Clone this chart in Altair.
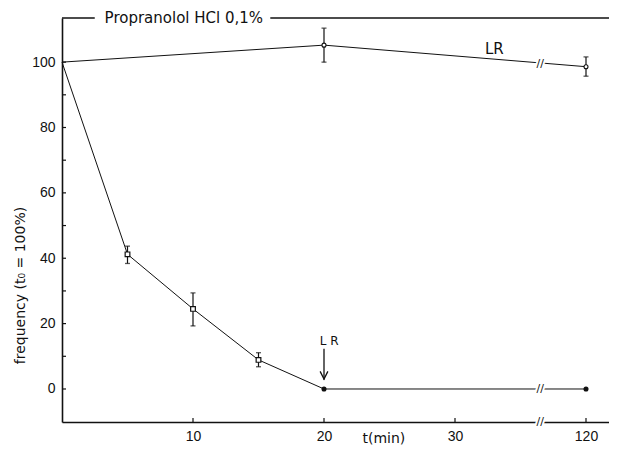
import altair as alt
import pandas as pd

# ---------------- data ----------------
t_drug = [0, 5, 10, 15, 20, 120]
f_drug = [100, 41.2, 24.5, 8.9, 0, 0]
drug_marker = ["none", "square", "square", "square", "dot", "dot"]

drug_err_t = [5, 10, 15]
drug_err_lo = [38.4, 19.3, 6.8]
drug_err_hi = [43.7, 29.4, 11.1]

t_lr = [0, 20, 120]
f_lr = [100, 105.2, 98.6]
lr_marker = ["none", "circle", "circle"]

lr_err_t = [20, 120]
lr_err_lo = [100.0, 95.7]
lr_err_hi = [110.4, 101.6]

x_tick_values = [10, 20, 30, 120]
y_label_values = [0, 20, 40, 60, 80, 100]
y_tick_values = [0, 10, 20, 30, 40, 50, 60, 70, 80, 90, 100]

title_text = "Propranolol HCl 0,1%"
y_title = "frequency (t\u2080 = 100%)"
x_title = "t(min)"

# broken time axis: 30 min is followed directly by 120 min
BREAK_GAP = 80
BREAK_POS = 36.5
W, H = 547, 404
X_MAX = W / 13.1
Y_MIN, Y_MAX = -10.1, 113.5


def pos(t):
    return t if t <= 30 else t - BREAK_GAP


drug = pd.DataFrame({"x": [pos(t) for t in t_drug], "y": f_drug, "m": drug_marker})
lr = pd.DataFrame({"x": [pos(t) for t in t_lr], "y": f_lr, "m": lr_marker})
lines = pd.concat([drug.assign(s="drug"), lr.assign(s="lr")])
errs = pd.DataFrame({
    "x": [pos(t) for t in drug_err_t + lr_err_t],
    "y": drug_err_lo + lr_err_lo,
    "y2": drug_err_hi + lr_err_hi,
})
caps = pd.DataFrame({"x": list(errs["x"]) * 2, "y": list(errs["y"]) + list(errs["y2"])})

breaks = pd.DataFrame({"x": [BREAK_POS, BREAK_POS, BREAK_POS], "y": [99.3, 0, Y_MIN]})
frame = pd.DataFrame({"x": [0, 15.9], "x2": [2.5, X_MAX]})
xt = pd.DataFrame({"x": [pos(t) for t in x_tick_values]})
yt = pd.DataFrame({"y": y_tick_values})

xscale = alt.Scale(domain=[0, X_MAX], nice=False, zero=False)
yscale = alt.Scale(domain=[Y_MIN, Y_MAX], nice=False, zero=False)

xaxis = alt.Axis(
    values=[pos(t) for t in x_tick_values],
    labelExpr="datum.value == 40 ? '120' : datum.label",
    title=x_title, ticks=False, grid=False, labelPadding=7,
    titleX=300, titleY=9, titleBaseline="top", titleAnchor="start",
)
yaxis = alt.Axis(
    values=y_label_values, title=y_title, ticks=False, grid=False,
    labelPadding=7, titleAngle=-90, titleX=-42, titleY=267,
    titleAlign="center", titleBaseline="middle",
)

X = alt.X("x:Q", scale=xscale, axis=xaxis)
Y = alt.Y("y:Q", scale=yscale, axis=yaxis)
INK = "#111111"
FONT = "DejaVu Sans"

line_layer = alt.Chart(lines).mark_line(color=INK, strokeWidth=1).encode(
    x=X, y=Y, detail="s:N", order="x:Q"
)
err_layer = alt.Chart(errs).mark_rule(color=INK, strokeWidth=1.2).encode(
    x=X, y=Y, y2="y2:Q"
)
cap_layer = alt.Chart(caps).mark_tick(color=INK, orient="horizontal", size=5, thickness=1.3).encode(
    x=X, y=Y
)
sq_layer = alt.Chart(drug[drug.m == "square"]).mark_point(
    shape="square", size=22, filled=True, fill="white", stroke=INK, strokeWidth=1.2, opacity=1
).encode(x=X, y=Y)
dot_layer = alt.Chart(drug[drug.m == "dot"]).mark_point(
    shape="circle", size=26, filled=True, color=INK, opacity=1
).encode(x=X, y=Y)
circ_layer = alt.Chart(lr[lr.m == "circle"]).mark_point(
    shape="circle", size=16, filled=True, fill="white", stroke=INK, strokeWidth=1.1, opacity=1
).encode(x=X, y=Y)

brk_halo = alt.Chart(breaks).mark_text(
    text="//", font=FONT, fontSize=11, stroke="white", strokeWidth=4, fill="white"
).encode(x=X, y=Y)
brk = alt.Chart(breaks).mark_text(text="//", font=FONT, fontSize=11, color=INK).encode(x=X, y=Y)

frame_layer = alt.Chart(frame).mark_rule(color=INK, strokeWidth=1.5).encode(
    x=X, x2="x2:Q", y=alt.value(0)
)
title_layer = alt.Chart(pd.DataFrame({"x": [9.3], "y": [Y_MAX], "t": [title_text]})).mark_text(
    font=FONT, fontSize=15, color=INK, baseline="middle", align="center"
).encode(x=X, y=Y, text="t:N")

ann = pd.DataFrame({"x": [33.0, 20.4], "y": [104.0, 14.8], "t": ["LR", "L R"], "fs": [15, 12]})
ann_layer = alt.Chart(ann).mark_text(font=FONT, color=INK, baseline="middle", align="center").encode(
    x=X, y=Y, text="t:N", size=alt.Size("fs:Q", scale=None, legend=None)
)
arrow = pd.DataFrame({"x": [20.0], "y": [12.3], "y2": [2.8]})
arrow_rule = alt.Chart(arrow).mark_rule(color=INK, strokeWidth=1.3).encode(x=X, y=Y, y2="y2:Q")
arrow_head = alt.Chart(pd.DataFrame({"x": [20.0], "y": [4.2]})).mark_point(
    shape="M-1,-1L0,1L1,-1", size=60, filled=False, stroke=INK, strokeWidth=1.3, opacity=1
).encode(x=X, y=Y)

xtick_layer = alt.Chart(xt).mark_rule(color=INK, strokeWidth=1.2).encode(
    x=X, y=alt.value(H), y2=alt.value(H - 4)
)
ytick_layer = alt.Chart(yt).mark_rule(color=INK, strokeWidth=1.2).encode(
    y=Y, x=alt.value(0), x2=alt.value(4)
)

chart = alt.layer(
    frame_layer, title_layer, ytick_layer, xtick_layer,
    line_layer, err_layer, cap_layer, sq_layer, dot_layer, circ_layer,
    arrow_rule, arrow_head, ann_layer, brk_halo, brk,
).properties(
    width=W, height=H,
    autosize=alt.AutoSizeParams(type="none"),
    padding={"left": 54, "top": 10, "right": 0, "bottom": 27},
).configure_view(stroke=None).configure_axis(
    domainColor=INK, domainWidth=1.6, labelFont="Liberation Sans", labelFontSize=14,
    labelColor=INK, titleFont=FONT, titleFontSize=14, titleFontWeight="normal", titleColor=INK,
)

chart.save("out.html", embed_options={"renderer": "svg", "actions": False})
